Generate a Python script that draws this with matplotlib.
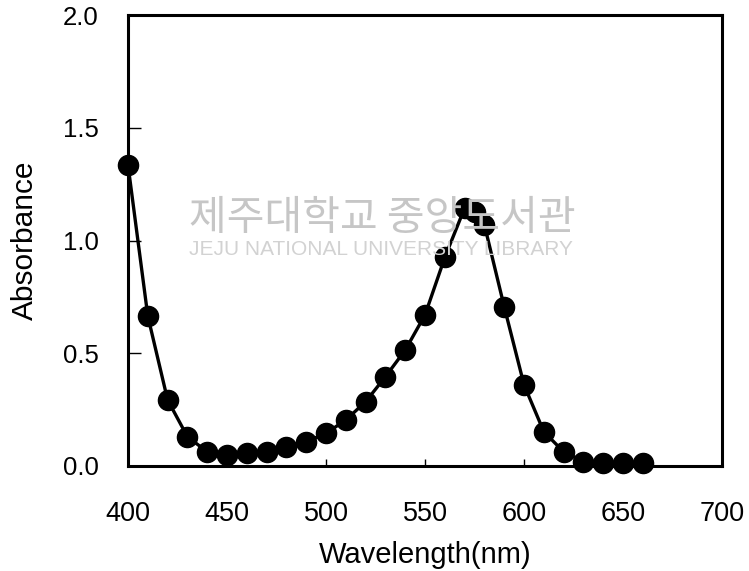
from matplotlib import pyplot as plt

plt.rcParams['font.family'] = ['Liberation Sans', 'Noto Sans CJK KR', 'DejaVu Sans']

# absorbance spectrum
wavelength = [400, 410, 420, 430, 440, 450, 460, 470, 480, 490, 500, 510, 520,
              530, 540, 550, 560, 570, 575, 580, 590, 600, 610, 620, 630, 640,
              650, 660]
absorbance = [1.335, 0.665, 0.293, 0.13, 0.063, 0.049, 0.056, 0.063, 0.086,
              0.108, 0.145, 0.204, 0.285, 0.396, 0.514, 0.67, 0.925, 1.144,
              1.126, 1.069, 0.706, 0.36, 0.152, 0.063, 0.019, 0.012, 0.012,
              0.014]
xticks = [400, 450, 500, 550, 600, 650, 700]
yticks = [0.0, 0.5, 1.0, 1.5, 2.0]

fig = plt.figure(figsize=(7.49, 5.71), dpi=100)
ax = fig.add_axes([0.1709, 0.1839, 0.7931, 0.7898])

# library watermark
fig.text(0.252, 0.598, "제주대학교 중앙도서관", fontsize=29.5, color='#c6c6c6',
         family=['Noto Sans CJK KR'], va='baseline', zorder=0)
fig.text(0.253, 0.553, "JEJU NATIONAL UNIVERSITY LIBRARY", fontsize=15,
         color='#d2d2d2', va='baseline', zorder=0)

ax.patch.set_alpha(0)
ax.plot(wavelength, absorbance, color='black', linewidth=2.4, marker='o',
        markersize=14.5, markerfacecolor='black', markeredgecolor='black',
        clip_on=False, zorder=3)

ax.set_xlim(400, 700)
ax.set_ylim(0, 2.0)
ax.set_xticks(xticks)
ax.set_yticks(yticks)
ax.set_xticklabels([str(x) for x in xticks])
ax.set_yticklabels(["%.1f" % y for y in yticks])
ax.tick_params(axis='x', direction='in', length=5, width=1, pad=25, labelsize=19.5)
ax.tick_params(axis='y', direction='in', length=9, width=1, pad=21, labelsize=18.5)
for s in ax.spines.values():
    s.set_linewidth(2.2)

ax.set_xlabel("Wavelength(nm)", fontsize=21, labelpad=10)
ax.set_ylabel("Absorbance", fontsize=21.5, labelpad=17)

fig.savefig("out.png", dpi=100)
